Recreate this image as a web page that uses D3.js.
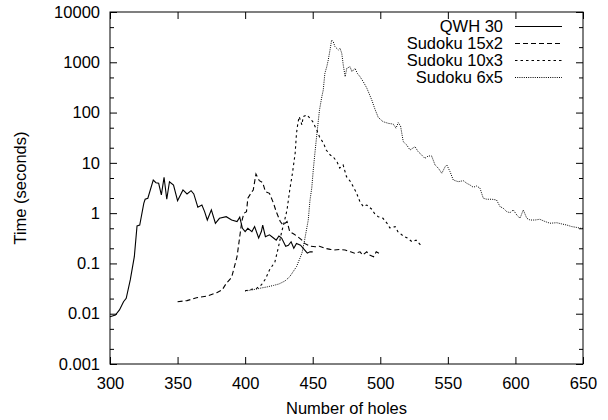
<!DOCTYPE html>
<html><head><meta charset="utf-8">
<script src="https://cdn.jsdelivr.net/npm/d3@7"></script>
<style>body{margin:0;background:#fff} text{font-family:"Liberation Sans",Arial,Helvetica,sans-serif;font-size:16.5px;fill:#000}</style>
</head><body><svg id="c" width="608" height="420"></svg>
<script>
const xTicks=[300,350,400,450,500,550,600,650];
const yTicks=[0.001,0.01,0.1,1,10,100,1000,10000];
const yTickLabels=["0.001","0.01","0.1","1","10","100","1000","10000"];
const seriesNames=["QWH 30","Sudoku 15x2","Sudoku 10x3","Sudoku 6x5"];
const qwh=[[300,0.0087],[304,0.0094],[307,0.0119],[310,0.0173],[312,0.0203],[315,0.047],[318,0.136],[320,0.556],[322,0.58],[325,1.57],[326,1.89],[328,1.98],[332,4.56],[334,4.03],[336,3.92],[338,2.30],[340,5.16],[342,1.89],[344,4.22],[347,3.63],[350,1.77],[354,2.89],[357,2.41],[360,2.80],[362,2.41],[365,1.31],[368,1.45],[370,1.07],[372,0.73],[375,1.16],[378,0.63],[381,0.79],[386,0.85],[390,0.73],[394,0.68],[396,0.83],[398,0.50],[400,0.43],[402,0.50],[405,0.43],[407,0.54],[410,0.32],[412,0.43],[413,0.58],[415,0.34],[418,0.37],[421,0.32],[423,0.29],[425,0.35],[427,0.32],[430,0.22],[432,0.23],[434,0.27],[436,0.20],[438,0.25],[441,0.23],[443,0.20],[446,0.16],[448,0.17],[450,0.17]];
const sudoku15x2=[[350,0.0173],[357,0.0182],[364,0.0208],[372,0.0225],[379,0.0262],[383,0.0297],[386,0.040],[390,0.053],[394,0.136],[396,0.34],[397.5,0.68],[399,0.99],[401,1.07],[402,1.98],[405,2.67],[406,2.89],[408,6.0],[410.5,4.42],[413,4.04],[415,2.67],[418,2.48],[421,1.57],[423,1.07],[426,0.68],[428,0.58],[431,0.68],[433,0.43],[436,0.385],[439,0.34],[442,0.29],[444,0.25],[448,0.22],[452,0.215],[455,0.22],[459,0.20],[463,0.19],[466,0.185],[470,0.19],[474,0.185],[478,0.17],[481,0.16],[485,0.17],[487,0.147],[490,0.17],[492,0.147],[495,0.136],[497,0.17],[499,0.16]];
const sudoku10x3=[[400,0.0287],[408.6,0.0321],[412,0.0373],[415,0.049],[418,0.074],[422,0.107],[424.5,0.203],[427,0.42],[429,0.68],[431,1.16],[433,2.89],[435,6.2],[437,15.5],[438,38.7],[439,61],[440,83],[442,57],[443,83],[445.5,90],[448,77],[450,66],[453,45],[455,33],[458,24.5],[460,18],[463,14.3],[465,13.3],[468,10.5],[470,7.9],[472.5,9.1],[475,5.3],[477.5,4.4],[480,3.36],[482.5,2.48],[485,1.67],[487.5,1.35],[490,1.45],[493.5,1.21],[496,0.96],[498.5,0.85],[502,0.79],[506,0.58],[507,0.51],[511,0.54],[513,0.43],[517,0.35],[520,0.32],[523.5,0.27],[526.5,0.29],[530,0.23]];
const sudoku6x5=[[400,0.0283],[405,0.0297],[408.6,0.031],[412,0.0325],[416,0.034],[421,0.0365],[425,0.039],[429.5,0.0448],[433,0.0545],[438,0.086],[442,0.159],[444,0.29],[446.7,0.73],[448,1.83],[449.3,3.16],[450.4,7.2],[451.7,16.4],[453,35.8],[455,112],[456.7,204],[457.8,281],[459,604],[460.4,817],[461.5,1110],[462.8,1757],[464,2775],[465.2,2567],[466.5,2040],[469,1753],[470.2,1897],[471.5,1510],[472.6,884],[474,517],[475.2,759],[477.6,817],[479,650],[481.3,759],[483,604],[485,517],[487.4,411],[490,308],[493.7,178],[496,118],[498.5,80],[502,66],[506,61],[509.6,59],[511.6,49],[513.3,63],[515,54],[517,26.4],[519.6,22.6],[522,18],[525.7,21],[528,16.7],[530.7,14.3],[533,12.3],[535.5,13.7],[538,13.7],[540.5,9.1],[543,7.8],[545.5,6.2],[548,8.4],[549.2,9.1],[551.6,6.7],[554,4.56],[557.7,4.22],[561.4,4.42],[564,3.92],[566.4,3.63],[568.8,3.27],[571.4,3.47],[573.8,3.12],[576.2,1.98],[578.8,1.89],[582.5,1.89],[586,1.83],[588.6,1.35],[591,1.25],[593.6,1.07],[596,1.02],[598.4,1.16],[601,0.92],[603.4,0.79],[605.8,1.16],[608.4,0.79],[610.8,0.73],[614.5,0.73],[618,0.755],[622,0.68],[625.6,0.63],[630.6,0.645],[634.3,0.61],[638,0.58],[641.7,0.54],[645.4,0.52],[648,0.50],[650,0.50]];

const series=[qwh,sudoku15x2,sudoku10x3,sudoku6x5];
const dashes=[null,"5,3","2.5,3","1,1.2"];
const widths=[1.1,1.1,1.1,1];

const svg=d3.select("#c");
const L=110,R=583,T=12,B=364;
const x=d3.scaleLinear().domain([300,650]).range([L,R]);
const y=d3.scaleLog().domain([0.001,10000]).range([B,T]);

const minor=[];
for(let e=-3;e<4;e++){minor.push(2*Math.pow(10,e),5*Math.pow(10,e));}

svg.append("g").attr("transform",`translate(0,${B})`)
  .call(d3.axisBottom(x).tickValues(xTicks).tickFormat(d3.format("d")).tickSizeInner(-7).tickSizeOuter(0).tickPadding(13));
svg.append("g").attr("transform",`translate(0,${T})`)
  .call(d3.axisTop(x).tickValues(xTicks).tickFormat("").tickSizeInner(-7).tickSizeOuter(0));
svg.append("g").attr("transform",`translate(${L},0)`)
  .call(d3.axisLeft(y).tickValues(yTicks).tickFormat((d,i)=>yTickLabels[i]).tickSizeInner(-7).tickSizeOuter(0).tickPadding(10));
svg.append("g").attr("transform",`translate(${R},0)`)
  .call(d3.axisRight(y).tickValues(yTicks).tickFormat("").tickSizeInner(-7).tickSizeOuter(0));
svg.append("g").attr("transform",`translate(${L},0)`)
  .call(d3.axisLeft(y).tickValues(minor).tickFormat("").tickSizeInner(-4).tickSizeOuter(0));
svg.append("g").attr("transform",`translate(${R},0)`)
  .call(d3.axisRight(y).tickValues(minor).tickFormat("").tickSizeInner(-4).tickSizeOuter(0));
svg.selectAll(".domain").remove();
svg.selectAll(".tick line").attr("stroke","#000").attr("stroke-width",1);
svg.selectAll(".tick text").style("font-size","16.5px").style("font-family","'Liberation Sans',Arial,sans-serif").attr("fill","#000");

svg.append("rect").attr("x",L).attr("y",T).attr("width",R-L).attr("height",B-T)
  .attr("fill","none").attr("stroke","#000").attr("stroke-width",1);

const line=d3.line().x(d=>x(d[0])).y(d=>y(d[1]));
series.forEach((s,i)=>{
  svg.append("path").datum(s).attr("d",line).attr("fill","none")
    .attr("stroke","#000").attr("stroke-width",widths[i])
    .attr("stroke-dasharray",dashes[i]);
});

const legY=[26.5,43.5,60.5,77.5];
seriesNames.forEach((n,i)=>{
  svg.append("text").attr("x",503).attr("y",legY[i]).attr("dy","0.35em").attr("text-anchor","end").text(n);
  svg.append("line").attr("x1",515).attr("x2",562).attr("y1",legY[i]).attr("y2",legY[i])
    .attr("stroke","#000").attr("stroke-width",widths[i]).attr("stroke-dasharray",dashes[i]);
});

svg.append("text").attr("x",(L+R)/2).attr("y",408).attr("dy","0.35em").attr("text-anchor","middle").text("Number of holes");
svg.append("text").attr("transform",`translate(20,${(T+B)/2}) rotate(-90)`).attr("dy","0.35em").attr("text-anchor","middle").text("Time (seconds)");
</script></body></html>
